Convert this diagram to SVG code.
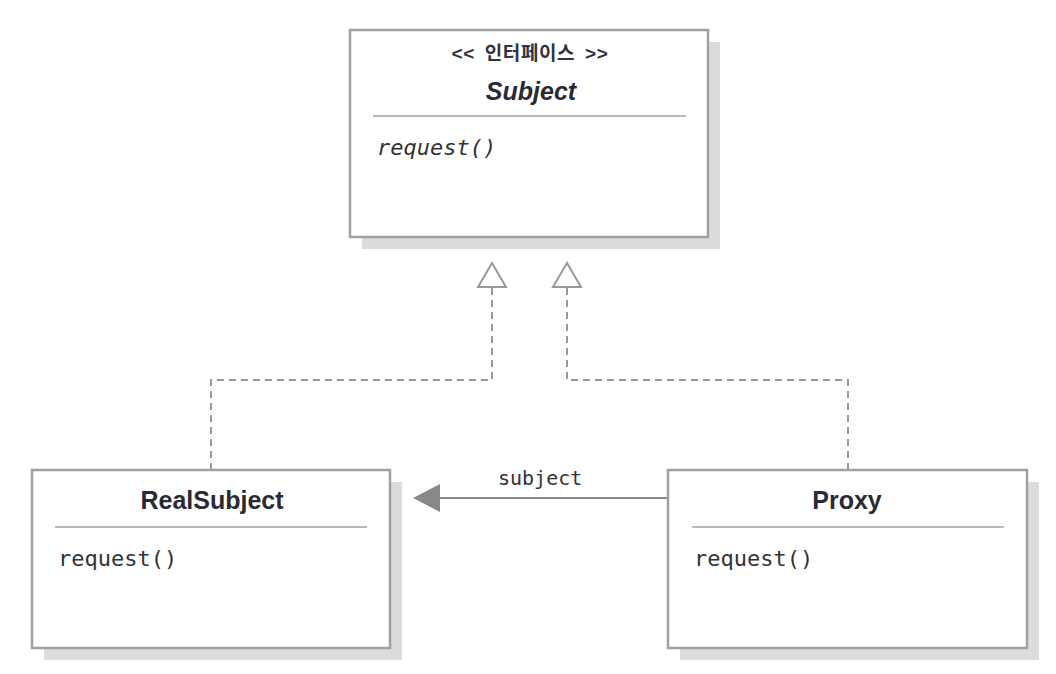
<svg xmlns="http://www.w3.org/2000/svg" width="1056" height="674" viewBox="0 0 1056 674">
<defs>
<style>
.shadow{fill:#dcdcdc;}
.box{fill:#ffffff;stroke:#a0a0a0;stroke-width:2.5;}
.sep{stroke:#a0a0a0;stroke-width:1.5;}
.title{font-family:"Liberation Sans",Arial,sans-serif;font-weight:bold;font-size:25px;fill:#2a2a35;text-anchor:middle;}
.stereo{font-family:"Liberation Sans","Noto Sans CJK KR",sans-serif;font-weight:bold;font-size:19px;fill:#333340;text-anchor:middle;word-spacing:4px;letter-spacing:0.6px;}
.op{font-family:"DejaVu Sans Mono","Liberation Mono",monospace;font-size:22px;fill:#333;}
.dash{fill:none;stroke:#999;stroke-width:2;stroke-dasharray:7,5;}
.assoc{fill:none;stroke:#888;stroke-width:2;}
.lbl{font-family:"DejaVu Sans Mono","Liberation Mono",monospace;font-size:20px;fill:#333;}
</style>
</defs>
<rect width="1056" height="674" fill="#ffffff"/>
<g id="connectors">
<path class="dash" d="M211,470 V380 H492 V287"/>
<path class="dash" d="M848,470 V380 H567 V287"/>
<polygon points="492,263 478,287 506,287" fill="#fff" stroke="#999" stroke-width="2"/>
<polygon points="567,263 553,287 581,287" fill="#fff" stroke="#999" stroke-width="2"/>
<line class="assoc" x1="668" y1="498" x2="438" y2="498"/>
<polygon points="413,498 440,484 440,512" fill="#888"/>
<text class="lbl" x="498" y="485">subject</text>
</g>
<g id="subject">
<rect class="shadow" x="362" y="42" width="358" height="207"/>
<rect class="box" x="350" y="30" width="358" height="207"/>
<text class="stereo" x="530" y="60">&lt;&lt; 인터페이스 &gt;&gt;</text>
<text class="title" x="531" y="100" font-style="italic">Subject</text>
<line class="sep" x1="373" y1="116" x2="686" y2="116"/>
<text class="op" x="377" y="155" font-style="italic">request()</text>
</g>
<g id="realsubject">
<rect class="shadow" x="44" y="482" width="358" height="178"/>
<rect class="box" x="32" y="470" width="358" height="178"/>
<text class="title" x="212" y="509">RealSubject</text>
<line class="sep" x1="55" y1="527" x2="367" y2="527"/>
<text class="op" x="58" y="566">request()</text>
</g>
<g id="proxy">
<rect class="shadow" x="680" y="482" width="359" height="178"/>
<rect class="box" x="668" y="470" width="359" height="178"/>
<text class="title" x="847" y="509">Proxy</text>
<line class="sep" x1="692" y1="527" x2="1004" y2="527"/>
<text class="op" x="694" y="566">request()</text>
</g>
</svg>
